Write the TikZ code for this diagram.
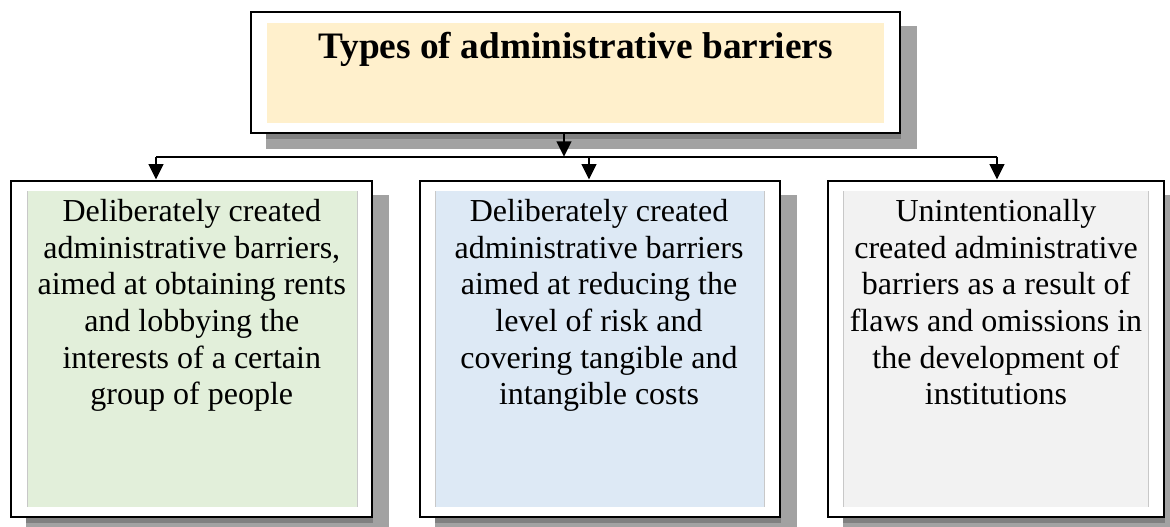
\documentclass[tikz,border=0pt]{standalone}
\usepackage{fontspec}
\setmainfont{Liberation Serif}
\usetikzlibrary{calc,backgrounds,arrows.meta}
\definecolor{shadowc}{RGB}{162,162,162}
\definecolor{shadowd}{RGB}{128,128,128}
\definecolor{topfill}{RGB}{255,240,204}
\definecolor{greenfill}{RGB}{226,239,218}
\definecolor{bluefill}{RGB}{221,233,245}
\definecolor{greyfill}{RGB}{242,242,242}
\definecolor{edgec}{RGB}{200,200,200}
\tikzset{
  framebox/.style={draw=black, line width=1.5pt, fill=white, inner sep=0pt},
  innerfill/.style={inner sep=0pt, draw=none},
  bodytext/.style={align=center, inner sep=0pt, anchor=north,
    font=\fontsize{24}{27.5}\selectfont},
  titletext/.style={inner sep=0pt, anchor=base,
    font=\fontsize{28}{33}\selectfont\bfseries},
  conn/.style={line width=1.4pt, black},
  arr/.style={conn, -{Triangle[length=11.5pt,width=11pt]}},
}
\begin{document}
\begin{tikzpicture}[x=0.75pt,y=-0.75pt]
\useasboundingbox (0,0) rectangle (1170,526);
% boxes
\node[framebox, minimum width=486.5pt, minimum height=90.5pt] (top) at (575.6,72.35) {};
\node[framebox, minimum width=270.75pt, minimum height=252.15pt] (b1) at (191.8,348.6) {};
\node[framebox, minimum width=270pt, minimum height=252.15pt] (b2) at (600,348.6) {};
\node[framebox, minimum width=252.2pt, minimum height=252.15pt] (b3) at (995.85,348.6) {};
% shadows
\begin{scope}[on background layer]
\foreach \b in {top,b1,b2,b3}{
  \fill[shadowc] ($(\b.south west)+(16,15)$) rectangle ($(\b.north east)+(16,15)$);
  \fill[shadowd] ($(\b.south west)+(16,0)$) rectangle ($(\b.south east)+(0,5)$);
}
\end{scope}
% inner fills
\node[innerfill, fill=topfill, minimum width=462.5pt, minimum height=74.5pt] (topf) at (575.6,73) {};
\node[innerfill, fill=greenfill, minimum width=247pt, minimum height=236.5pt] (b1f) at (192,349) {};
\node[innerfill, fill=bluefill, minimum width=246.2pt, minimum height=236.5pt] (b2f) at (599.85,349) {};
\node[innerfill, fill=greyfill, minimum width=228.2pt, minimum height=236.5pt] (b3f) at (996.15,349) {};
\foreach \f in {b1f,b2f,b3f}{
  \draw[edgec, line width=0.6pt] (\f.south west) -- (\f.north west);
  \draw[edgec, line width=0.6pt] (\f.south east) -- (\f.north east);
}
% texts
\node[titletext] (title) at (575.6,58.5) {Types of administrative barriers};
\node[bodytext] (t1) at (191.8,199) {Deliberately created\\administrative barriers,\\aimed at obtaining rents\\and lobbying the\\interests of a certain\\group of people};
\node[bodytext] (t2) at (599,199) {Deliberately created\\administrative barriers\\aimed at reducing the\\level of risk and\\covering tangible and\\intangible costs};
\node[bodytext] (t3) at (996,199) {Unintentionally\\created administrative\\barriers as a result of\\flaws and omissions in\\the development of\\institutions};
% connectors
\coordinate (jm) at (564,156.7);
\coordinate (j1) at (156,156.7);
\coordinate (j2) at (589,156.7);
\coordinate (j3) at (997,156.7);
\draw[arr] (jm |- top.south) -- (jm);
\draw[conn] (j1) -- (j3);
\draw[arr] (j1) -- (j1 |- b1.north);
\draw[arr] (j2) -- (j2 |- b2.north);
\draw[arr] (j3) -- (j3 |- b3.north);
\end{tikzpicture}
\end{document}
